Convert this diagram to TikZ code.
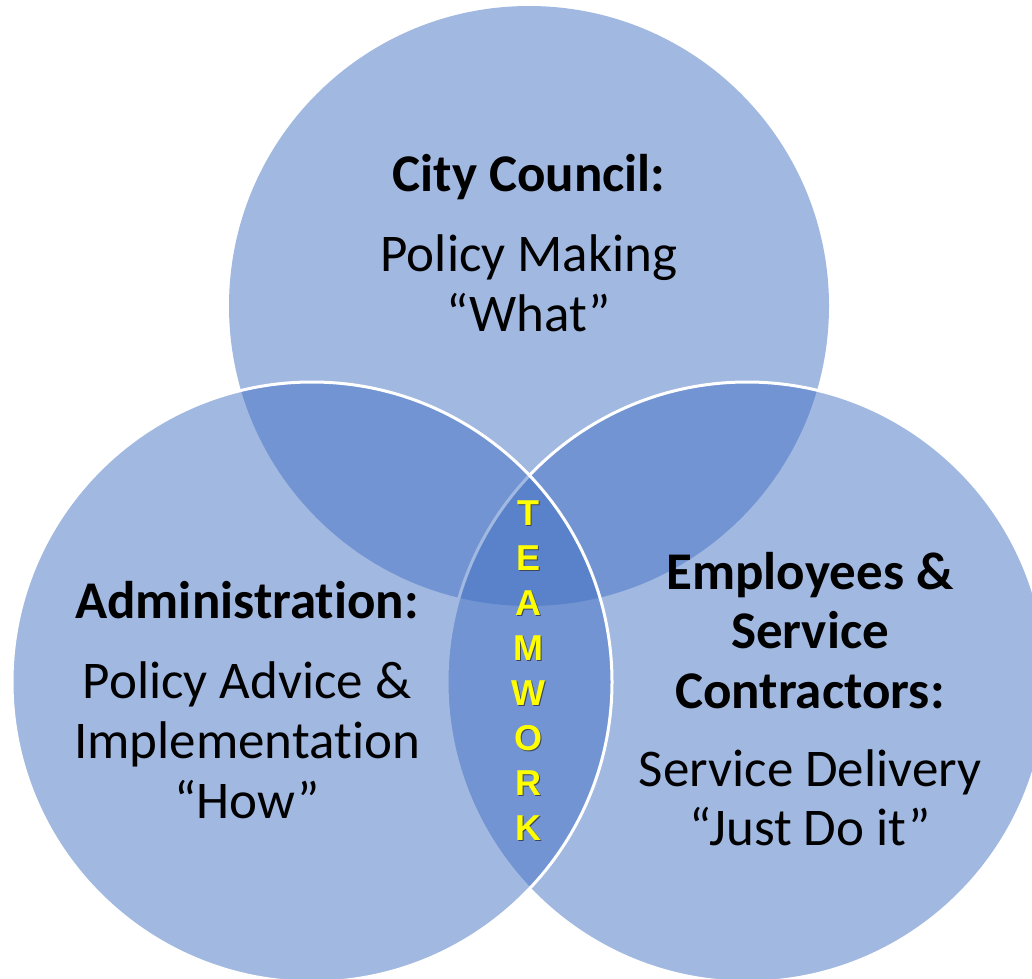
\documentclass[tikz,border=0pt]{standalone}
\usepackage{fontspec}
\setmainfont{Carlito}[Ligatures={NoCommon}]
\newfontfamily\teamfont{Liberation Sans}
\definecolor{venn}{RGB}{68,114,196}
\definecolor{teamyellow}{RGB}{255,255,0}
\definecolor{teamshadow}{RGB}{60,70,95}
\newcommand{\shadowed}[1]{\makebox[0pt][l]{\kern1.8pt\raisebox{-1.8pt}{\textcolor{teamshadow}{#1}}}#1}
\begin{document}
\begin{tikzpicture}[x=1pt,y=-1pt,
  vennfill/.style={fill=venn, fill opacity=0.5},
  vennline/.style={draw=white, line width=3pt},
  titletext/.style={font=\fontsize{53}{60}\selectfont\bfseries, anchor=base, inner sep=0pt},
  bodytext/.style={font=\fontsize{53}{60}\selectfont, anchor=base, inner sep=0pt},
  letter/.style={font=\teamfont\fontsize{36}{40}\selectfont\bfseries, text=teamyellow, anchor=base, inner sep=0pt}]
\useasboundingbox (0,0) rectangle (1032,978);
\clip (0,0) rectangle (1032,978);
\fill[white] (0,0) rectangle (1032,978);
% circles
\coordinate (ctop) at (529,306);
\coordinate (cright) at (747,682);
\coordinate (cleft) at (312,682);
\path[vennfill] (ctop) circle[radius=300pt];
\path[vennfill, vennline] (cright) circle[radius=300pt];
\path[vennfill, vennline] (cleft) circle[radius=300pt];
% top text
\node[titletext] (t1) at (529,191) {City Council:};
\node[bodytext] (t2) at (529,271) {Policy Making};
\node[bodytext] (t3) at (529,331) {“What”};
% left text
\node[titletext] (l1) at (247,618) {Administration:};
\node[bodytext] (l2) at (247,698) {Policy Advice \&};
\node[bodytext] (l3) at (247,758) {Implementation};
\node[bodytext] (l4) at (247,818) {“How”};
% right text
\node[titletext] (r1) at (810,589) {Employees \&};
\node[titletext] (r2) at (810,648) {Service};
\node[titletext] (r3) at (810,708) {Contractors:};
\node[bodytext] (r4) at (810,786) {Service Delivery};
\node[bodytext] (r5) at (810,845) {“Just Do it”};
% teamwork
\foreach \ch [count=\i from 0] in {T,E,A,M,W,O,R,K} {
  \node[letter] (w\i) at (528,525+45*\i) {\shadowed{\ch}};
}
\end{tikzpicture}
\end{document}
